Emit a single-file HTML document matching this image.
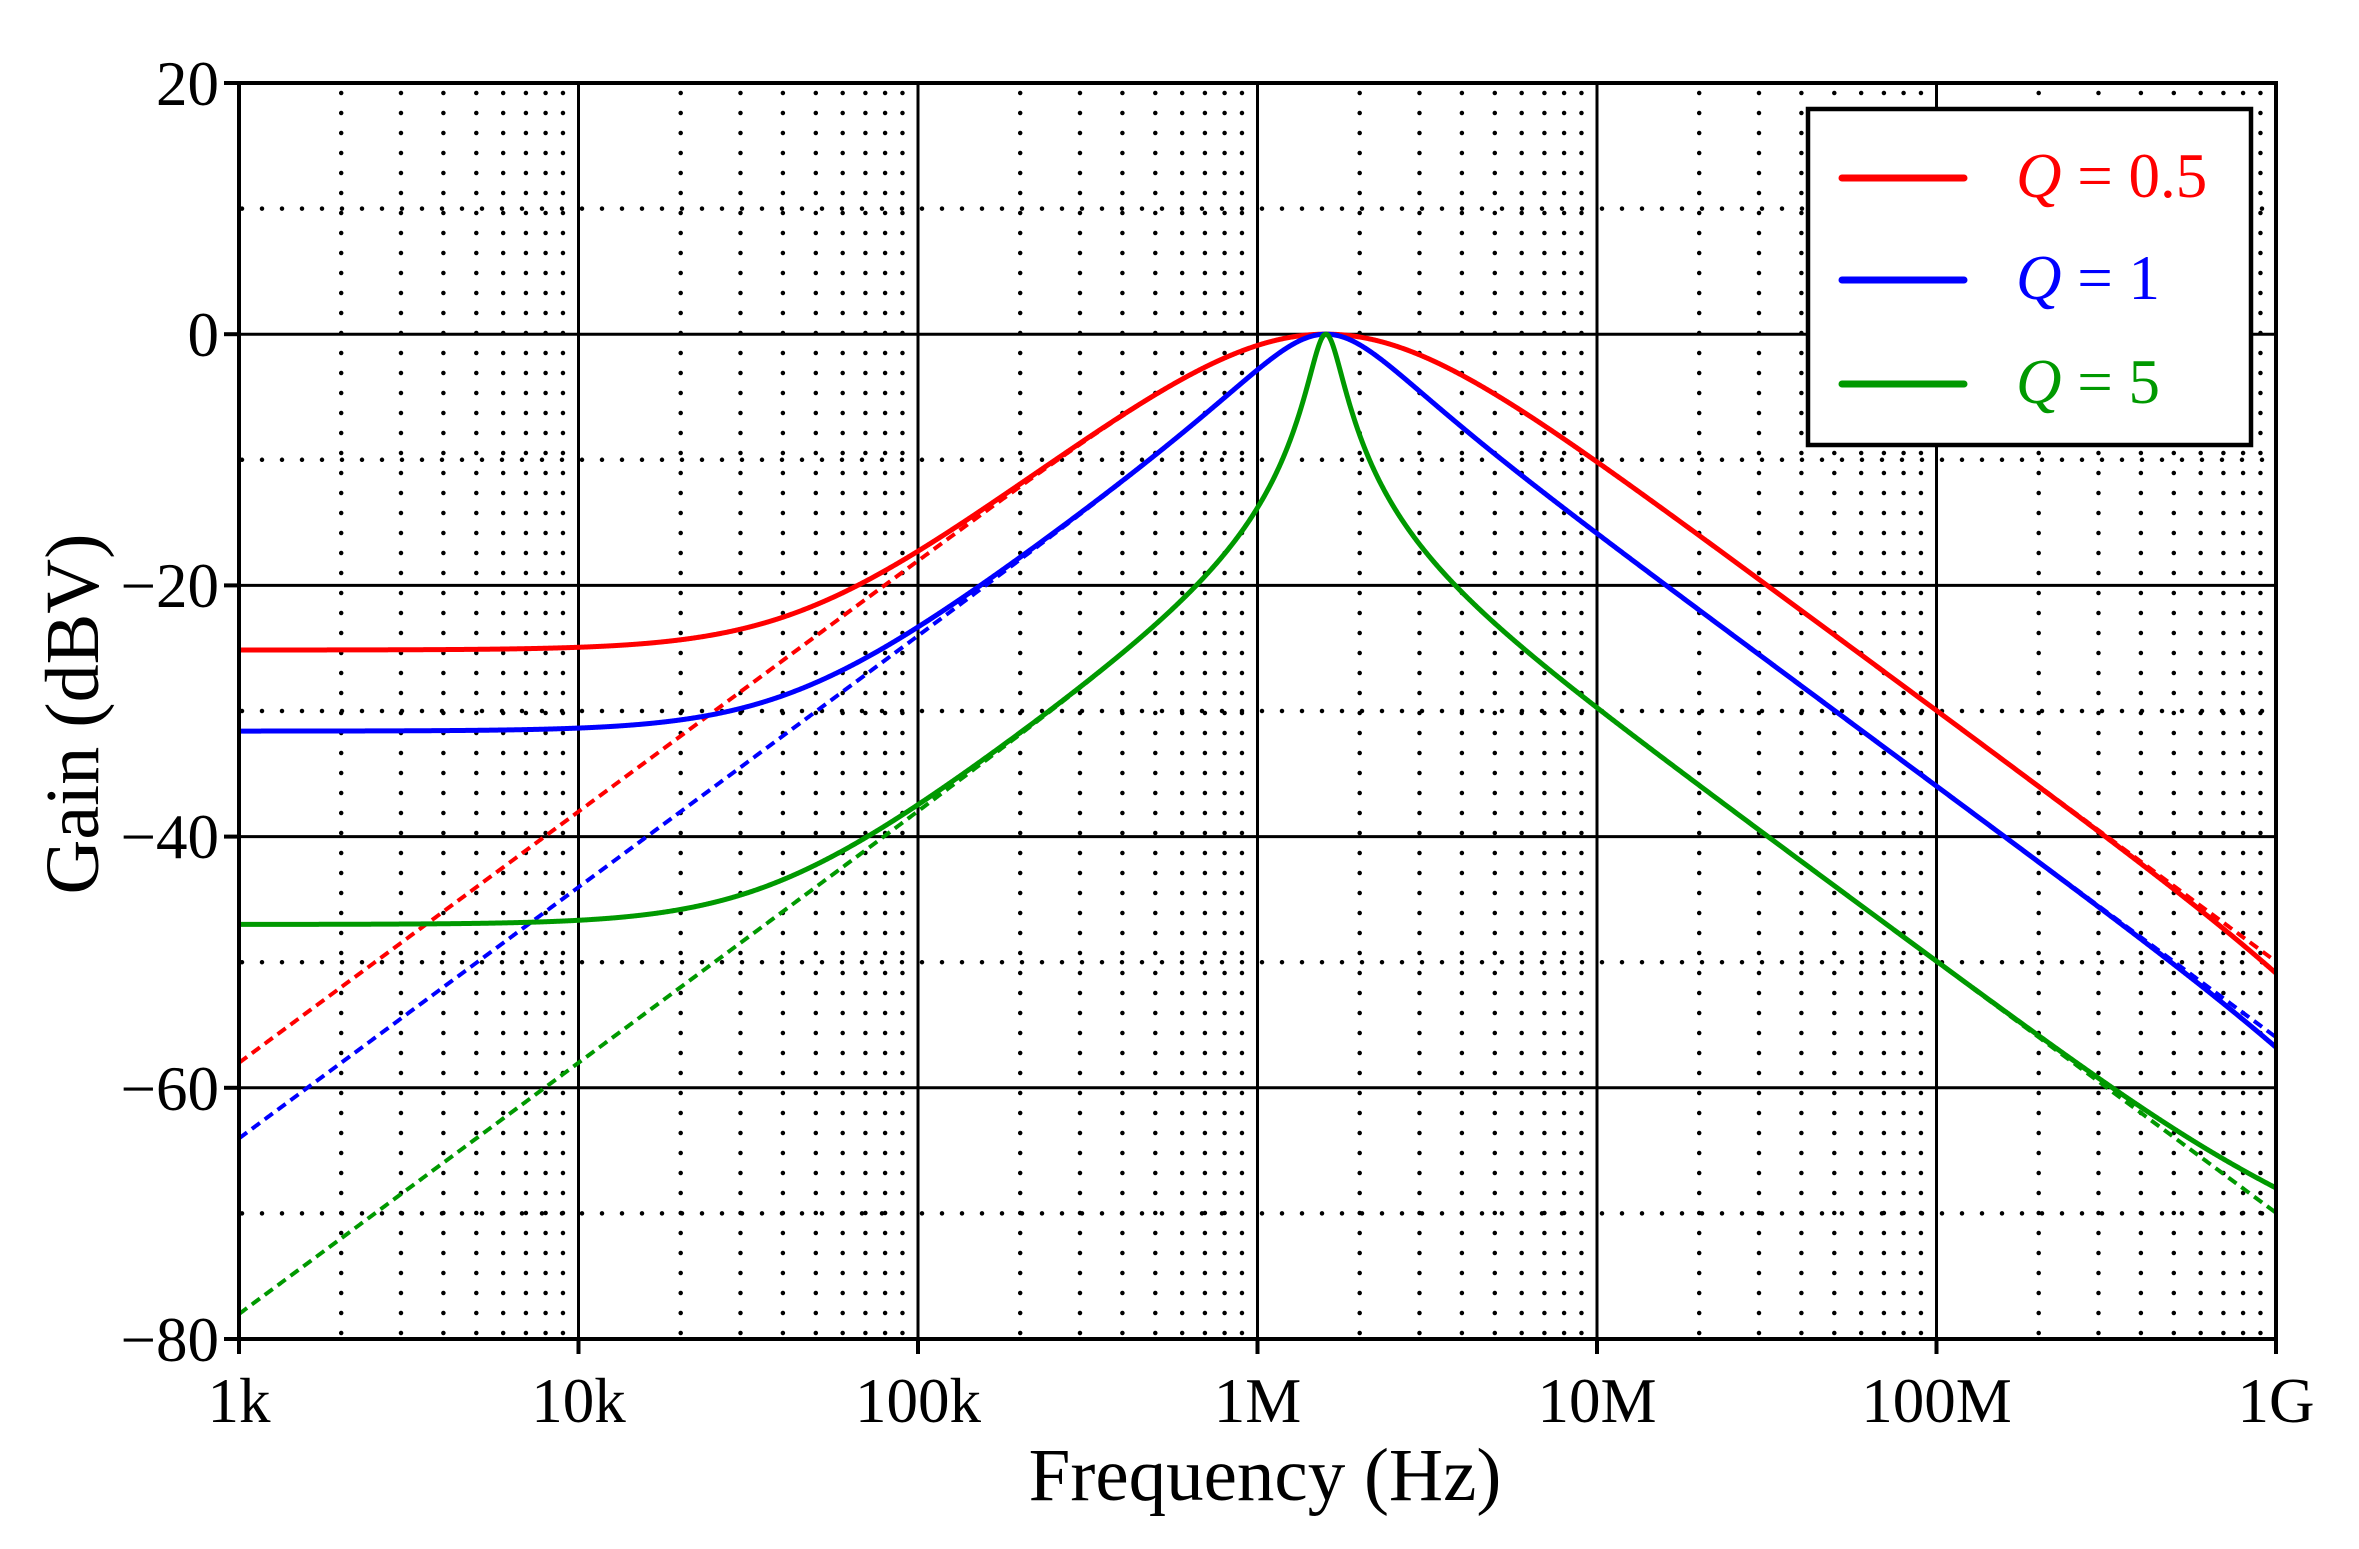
<!DOCTYPE html>
<html><head><meta charset="utf-8"><style>
html,body{margin:0;padding:0;background:#fff;}
svg{display:block;}
text{font-family:"Liberation Serif",serif;fill:#000;}
</style></head><body>
<svg id="s" width="2359" height="1549" viewBox="0 0 2359 1549" xmlns="http://www.w3.org/2000/svg">
<g id="grid"></g>
<g id="curves"></g>
<g id="frame"></g>
<g font-size="63">
<text x="219" y="105" text-anchor="end">20</text>
<text x="219" y="356" text-anchor="end">0</text>
<text x="219" y="607" text-anchor="end">−20</text>
<text x="219" y="858" text-anchor="end">−40</text>
<text x="219" y="1110" text-anchor="end">−60</text>
<text x="219" y="1361" text-anchor="end">−80</text>
<text x="239" y="1422" text-anchor="middle">1k</text>
<text x="578.5" y="1422" text-anchor="middle">10k</text>
<text x="918" y="1422" text-anchor="middle">100k</text>
<text x="1257.5" y="1422" text-anchor="middle">1M</text>
<text x="1597" y="1422" text-anchor="middle">10M</text>
<text x="1936.5" y="1422" text-anchor="middle">100M</text>
<text x="2276" y="1422" text-anchor="middle">1G</text>
</g>
<text x="1265" y="1500" text-anchor="middle" font-size="75">Frequency (Hz)</text>
<text transform="translate(98,714) rotate(-90)" text-anchor="middle" font-size="76">Gain (dBV)</text>
<g>
<rect x="1808" y="109" width="443" height="336" fill="#fff" stroke="#000" stroke-width="4.5"/>
<line x1="1842" y1="178" x2="1964" y2="178" stroke="#ff0000" stroke-width="7" stroke-linecap="round"/>
<line x1="1842" y1="280" x2="1964" y2="280" stroke="#0000ff" stroke-width="7" stroke-linecap="round"/>
<line x1="1842" y1="384" x2="1964" y2="384" stroke="#009900" stroke-width="7" stroke-linecap="round"/>
<g font-size="63">
<text x="2016" y="197" style="fill:#ff0000"><tspan font-style="italic">Q</tspan> = 0.5</text>
<text x="2016" y="299" style="fill:#0000ff"><tspan font-style="italic">Q</tspan> = 1</text>
<text x="2016" y="403" style="fill:#009900"><tspan font-style="italic">Q</tspan> = 5</text>
</g>
</g>
</svg>
<script>
const NS="http://www.w3.org/2000/svg";
const X0=239,X1=2276,Y0=83,Y1=1339;
const DEC=(X1-X0)/6, DB=(Y1-Y0)/100;
const fx=f=>X0+(Math.log10(f)-3)*DEC;
const fy=d=>Y0+(20-d)*DB;
function ln(g,x1,y1,x2,y2,a){const e=document.createElementNS(NS,"line");
e.setAttribute("x1",x1);e.setAttribute("y1",y1);e.setAttribute("x2",x2);e.setAttribute("y2",y2);
for(const k in a)e.setAttribute(k,a[k]);g.appendChild(e);}
const G=document.getElementById("grid"),F=document.getElementById("frame");
const dot={stroke:"#000","stroke-width":4.5,"stroke-linecap":"round","stroke-dasharray":"0 20"};
for(let d=3;d<9;d++)for(let m=2;m<10;m++){const x=fx(m*Math.pow(10,d));ln(G,x,Y0+10,x,Y1,dot);}
for(let v=10;v>-80;v-=20){const y=fy(v);ln(G,X0+3,y,X1,y,dot);}
const sol={stroke:"#000","stroke-width":3};
for(let d=4;d<9;d++){const x=fx(Math.pow(10,d));ln(G,x,Y0,x,Y1,sol);}
for(let v=0;v>-80;v-=20){const y=fy(v);ln(G,X0,y,X1,y,sol);}
const fr={stroke:"#000","stroke-width":4};
ln(F,X0,Y0-2,X0,Y1+2,fr);ln(F,X1,Y0-2,X1,Y1+2,fr);ln(F,X0-2,Y0,X1+2,Y0,fr);ln(F,X0-2,Y1,X1+2,Y1,fr);
for(let v=20;v>=-80;v-=20){const y=fy(v);ln(F,X0-15,y,X0,y,fr);}
for(let d=3;d<=9;d++){const x=fx(Math.pow(10,d));ln(F,x,Y1,x,Y1+15,fr);}
const f0=1.59e6;
function mag(f,Q,a,c,fp){
 const w=f/f0;
 const nr=a-c*w*w, ni=w/Q;
 const dr=1-w*w, di=w/Q;
 let m=Math.hypot(nr,ni)/Math.hypot(dr,di);
 if(fp) m/=Math.hypot(1,f/fp);
 return 20*Math.log10(m);
}
const C=document.getElementById("curves");
const ser=[[0.5,"#ff0000",0.0553],[1,"#0000ff",0.0263],[5,"#009900",0.00447]];
for(const [Q,col,a] of ser){
 for(const real of [false,true]){
  let d="";
  for(let i=0;i<=3000;i++){const lf=3+6*i/3000;const f=Math.pow(10,lf);
   const g=real?mag(f,Q,a,0.000313,2e9):mag(f,Q,0,0,0);
   d+=(i?"L":"M")+fx(f).toFixed(2)+" "+fy(g).toFixed(2);}
  const p=document.createElementNS(NS,"path");p.setAttribute("d",d);p.setAttribute("fill","none");
  p.setAttribute("stroke",col);p.setAttribute("stroke-width",real?5:4);
  if(!real)p.setAttribute("stroke-dasharray","10 6");
  C.appendChild(p);
 }
}
</script>
</body></html>
